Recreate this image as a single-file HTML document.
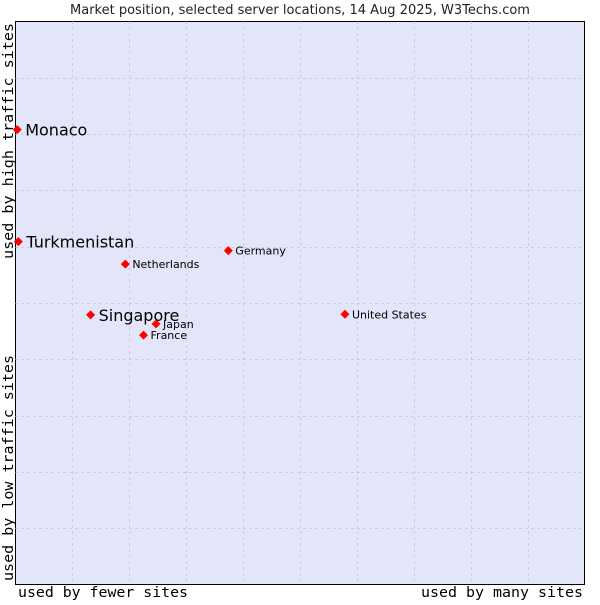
<!DOCTYPE html>
<html><head><meta charset="utf-8"><style>
body{margin:0;background:#fff;}
svg text{font-family:"DejaVu Sans","Liberation Sans",sans-serif;}
.mono{font-family:"DejaVu Sans Mono","Liberation Mono",monospace;}
</style></head><body>
<svg id="chart" width="600" height="600" xmlns="http://www.w3.org/2000/svg">
<text x="300" y="14" text-anchor="middle" font-size="13" fill="#222">Market position, selected server locations, 14 Aug 2025, W3Techs.com</text>
<rect x="15.5" y="21.5" width="569" height="563" fill="#e3e5f8" stroke="#000" stroke-width="1"/>
<g id="grid"></g>
<g id="points"></g>
<text class="mono" x="18" y="597" font-size="14" fill="#000" textLength="170" lengthAdjust="spacingAndGlyphs">used by fewer sites</text>
<text class="mono" x="421" y="597" font-size="14" fill="#000" textLength="162" lengthAdjust="spacingAndGlyphs">used by many sites</text>
<text class="mono" transform="translate(13,259) rotate(-90)" font-size="14" fill="#000" textLength="236" lengthAdjust="spacingAndGlyphs">used by high traffic sites</text>
<text class="mono" transform="translate(13,581) rotate(-90)" font-size="14" fill="#000" textLength="226" lengthAdjust="spacingAndGlyphs">used by low traffic sites</text>
</svg>
<script>
const names = ["Monaco","Turkmenistan","Singapore","Netherlands","Germany","United States","Japan","France"];
const xValues = [0.3,0.5,13.2,19.3,37.4,57.9,24.7,22.5];
const yValues = [80.8,60.9,47.9,56.9,59.3,48.0,46.3,44.3];
const highlighted = [true,true,true,false,false,false,false,false];
const NS="http://www.w3.org/2000/svg";
const X0=15.5,X1=584.5,Y0=584.5,Y1=21.5;
function sx(v){return X0+v/100*(X1-X0);}
function sy(v){return Y0-v/100*(Y0-Y1);}
const grid=document.getElementById('grid');
for(let i=1;i<10;i++){
  const lx=document.createElementNS(NS,'line');
  
  
  const x=Math.round(sx(i*10))+0.5;
  lx.setAttribute('x1',x);lx.setAttribute('x2',x);lx.setAttribute('y1',Y1);lx.setAttribute('y2',Y0);
  lx.setAttribute('stroke','#c4c4c8');lx.setAttribute('stroke-dasharray','2,4');
  grid.appendChild(lx);
  const ly=document.createElementNS(NS,'line');
  
  
  const y=Math.round(sy(i*10))+0.5;
  ly.setAttribute('x1',X0);ly.setAttribute('x2',X1);ly.setAttribute('y1',y);ly.setAttribute('y2',y);
  ly.setAttribute('stroke','#c4c4c8');ly.setAttribute('stroke-dasharray','2,4');
  grid.appendChild(ly);
}
const pts=document.getElementById('points');
names.forEach((n,i)=>{
  const x=sx(xValues[i]),y=sy(yValues[i]);
  const d=document.createElementNS(NS,'path');
  
  
  d.setAttribute('d',`M${x-4.5},${y} L${x},${y-4.5} L${x+4.5},${y} L${x},${y+4.5} Z`);
  d.setAttribute('fill','#f00');
  pts.appendChild(d);
  const t=document.createElementNS(NS,'text');
  
  
  t.setAttribute('x',x+(highlighted[i]?8:7));
  t.setAttribute('y',y+(highlighted[i]?6:4));
  t.setAttribute('font-size',highlighted[i]?16:11);
  t.setAttribute('fill','#000');
  t.textContent=n;
  pts.appendChild(t);
});
</script>
</body></html>
